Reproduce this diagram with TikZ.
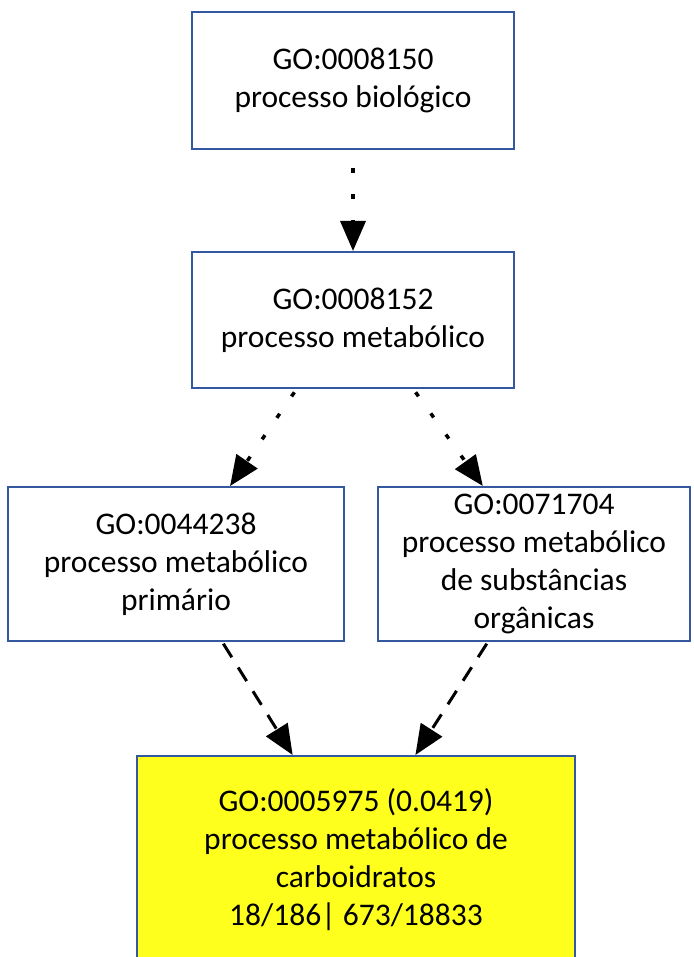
\documentclass[tikz,border=0pt]{standalone}
\usepackage{fontspec}
\setmainfont{Carlito}
\usetikzlibrary{arrows.meta,calc}
\definecolor{edgeblue}{RGB}{52,88,160}
\definecolor{hilite}{RGB}{255,255,30}
\begin{document}
\begin{tikzpicture}[x=1pt,y=-1pt,
  term/.style={draw=edgeblue,line width=2pt,fill=white,align=center,inner sep=0pt,
    font=\fontsize{31.5}{38}\selectfont},
  isa/.style={line width=3.5pt,dash pattern=on 5pt off 21pt,shorten <=4pt,
    -{Triangle[length=30pt,width=25pt]}},
  partof/.style={line width=3pt,dash pattern=on 16pt off 12pt,shorten <=2pt,
    -{Triangle[length=30pt,width=25pt]}}]
\useasboundingbox (0,0) rectangle (693,957);

% GO terms
\node[term,minimum width=322pt,minimum height=137pt] (b1) at (353,80.5)
  {GO:0008150\\processo biológico};
\node[term,minimum width=322pt,minimum height=136pt] (b2) at (353,320)
  {GO:0008152\\processo metabólico};
\node[term,minimum width=336pt,minimum height=154pt] (b3) at (176,564)
  {GO:0044238\\processo metabólico\\primário};
\node[term,minimum width=312pt,minimum height=154pt] (b4) at (534,564)
  {GO:0071704\\processo metabólico\\de substâncias\\orgânicas};
\node[term,fill=hilite,minimum width=438pt,minimum height=208pt] (b5) at (356,860)
  {GO:0005975 (0.0419)\\processo metabólico de\\carboidratos\\18/186| 673/18833};

% relations
\draw[isa,shorten <=18pt] (b1) -- (b2);
\draw[isa] ($(b2.south west)!0.326!(b2.south east)$) -- ($(b3.north west)!0.66!(b3.north east)$);
\draw[isa] ($(b2.south west)!0.686!(b2.south east)$) -- ($(b4.north west)!0.337!(b4.north east)$);
\draw[partof] ($(b3.south west)!0.637!(b3.south east)$) -- ($(b5.north west)!0.356!(b5.north east)$);
\draw[partof] ($(b4.south west)!0.353!(b4.south east)$) -- ($(b5.north west)!0.635!(b5.north east)$);
\end{tikzpicture}
\end{document}
